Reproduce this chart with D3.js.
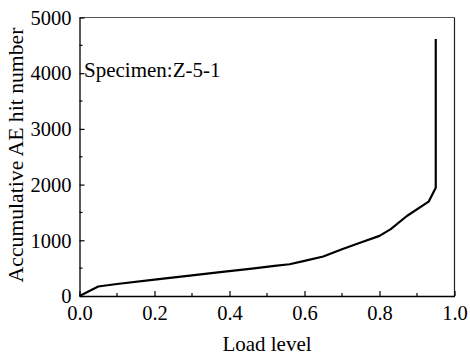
<!DOCTYPE html>
<html><head><meta charset="utf-8">
<script src="https://cdn.jsdelivr.net/npm/d3@7"></script>
<style>body{margin:0;background:#fff}svg{display:block}text{font-family:"Liberation Serif","Times New Roman",serif;fill:#000}</style>
</head><body>
<svg id="c" width="470" height="358"></svg>
<script>
const loadLevel = [0, 0.05, 0.1, 0.2, 0.3, 0.375, 0.46, 0.52, 0.56, 0.6, 0.65, 0.7, 0.75, 0.8, 0.83, 0.873, 0.931, 0.95, 0.95];
const hitNumber = [0, 170, 215, 295, 370, 430, 490, 540, 570, 630, 710, 840, 960, 1080, 1200, 1436, 1693, 1944, 4614];
const xTicks = [0, 0.2, 0.4, 0.6, 0.8, 1.0];
const yTicks = [0, 1000, 2000, 3000, 4000, 5000];
const specimen = "Specimen:Z-5-1";

const FF = "'Liberation Serif', 'Times New Roman', serif";
const svg = d3.select("#c");
const L = 79.5, R = 454.5, T = 17.5, B = 296;
const x = d3.scaleLinear().domain([0, 1]).range([L, R]);
const y = d3.scaleLinear().domain([0, 5000]).range([B, T]);
const fs = 20.5;

// frame
svg.append("line").attr("x1", L).attr("x2", R).attr("y1", T).attr("y2", T).attr("stroke", "#555").attr("stroke-width", 1.2);
svg.append("line").attr("x1", R).attr("x2", R).attr("y1", T).attr("y2", B).attr("stroke", "#222").attr("stroke-width", 1.2);

// x axis
const xa = svg.append("g").attr("transform", `translate(0,${B})`)
  .call(d3.axisBottom(x).tickValues(xTicks).tickFormat(d3.format(".1f")).tickSizeInner(-5).tickSizeOuter(0).tickPadding(9));
xa.attr("font-family", null);
xa.selectAll(".tick text").attr("font-size", fs).attr("dy", "0.75em").style("font-family", FF);
xa.select(".domain").attr("stroke", "#000").attr("stroke-width", 1.3);
xa.selectAll(".tick line").attr("stroke-width", 1.2);
svg.append("g").selectAll("line").data(d3.range(0.1, 1, 0.2)).join("line")
  .attr("x1", d => x(d)).attr("x2", d => x(d)).attr("y1", B).attr("y2", B - 3)
  .attr("stroke", "#000").attr("stroke-width", 1.2);

// y axis
const ya = svg.append("g").attr("transform", `translate(${L},0)`)
  .call(d3.axisLeft(y).tickValues(yTicks).tickFormat(d3.format("d")).tickSizeInner(-5).tickSizeOuter(0).tickPadding(8));
ya.attr("font-family", null);
ya.selectAll(".tick text").attr("font-size", fs).attr("dy", "0.33em").style("font-family", FF);
ya.select(".domain").attr("stroke", "#000").attr("stroke-width", 1.3);
ya.selectAll(".tick line").attr("stroke-width", 1.2);
svg.append("g").selectAll("line").data(d3.range(500, 5000, 1000)).join("line")
  .attr("x1", L).attr("x2", L + 3).attr("y1", d => y(d)).attr("y2", d => y(d))
  .attr("stroke", "#000").attr("stroke-width", 1.2);

// data line
const pts = loadLevel.map((v, i) => [v, hitNumber[i]]);
svg.append("path").datum(pts)
  .attr("d", d3.line().x(d => x(d[0])).y(d => y(d[1])))
  .attr("fill", "none").attr("stroke", "#000").attr("stroke-width", 2.2).attr("stroke-linejoin", "round");

// labels
svg.append("text").attr("x", (L + R) / 2).attr("y", 351).attr("text-anchor", "middle").attr("font-size", 21).style("font-family", FF).text("Load level");
svg.append("text").attr("transform", `translate(22.5,155) rotate(-90)`).attr("text-anchor", "middle").attr("font-size", 21.7).style("font-family", FF).text("Accumulative AE hit number");
svg.append("text").attr("x", 84).attr("y", 77).attr("font-size", 21).style("font-family", FF).text(specimen);
</script>
</body></html>
